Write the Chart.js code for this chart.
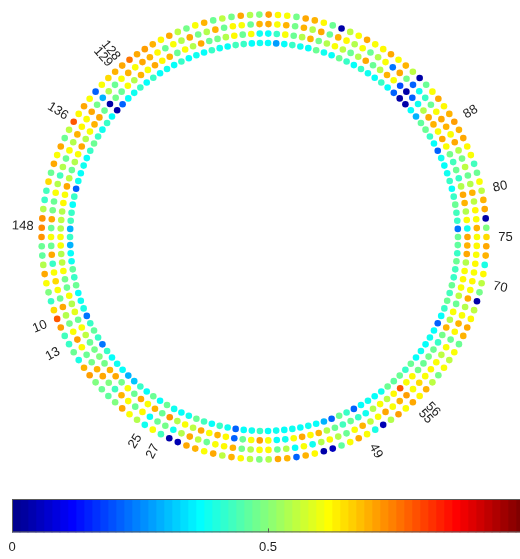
<!DOCTYPE html>
<html>
<head>
<meta charset="utf-8">
<script src="https://cdn.jsdelivr.net/npm/chart.js@4/dist/chart.umd.min.js"></script>
<style>
  html, body { margin: 0; padding: 0; background: #ffffff; overflow: hidden; width: 520px; height: 559px; }
  #ring { position: absolute; left: 0; top: 0; }
  #bar { position: absolute; left: 0; top: 480px; }
</style>
</head>
<body>
<canvas id="ring" width="520" height="475"></canvas>
<canvas id="bar" width="540" height="85"></canvas>
<script>
// Number of angular positions around the ring (position 150 sits at the left, numbering runs counter-clockwise)
const positionCount = 150;

// Ring numbers, inner to outer
const ringNumbers = [1, 2, 3, 4];

// Values (0..1) per position 1..150, one array per ring
const ring1Values = [
  0.30,0.38,0.39,0.47,0.43,0.48,0.38,0.39,0.40,0.24,
  0.43,0.47,0.43,0.24,0.43,0.38,0.39,0.38,0.30,0.32,
  0.43,0.38,0.48,0.38,0.48,0.39,0.38,0.39,0.48,0.44,
  0.38,0.43,0.39,0.22,0.38,0.39,0.43,0.38,0.39,0.38,
  0.39,0.38,0.39,0.38,0.30,0.22,0.48,0.43,0.22,0.38,
  0.39,0.38,0.39,0.48,0.47,0.48,0.43,0.48,0.38,0.39,
  0.38,0.39,0.38,0.22,0.38,0.43,0.48,0.44,0.48,0.43,
  0.44,0.48,0.43,0.47,0.48,0.24,0.43,0.44,0.48,0.43,
  0.38,0.43,0.39,0.38,0.39,0.22,0.38,0.43,0.48,0.47,
  0.30,0.38,0.04,0.04,0.22,0.38,0.43,0.38,0.39,0.43,
  0.38,0.43,0.48,0.38,0.39,0.48,0.38,0.39,0.43,0.38,
  0.28,0.38,0.39,0.38,0.43,0.44,0.38,0.39,0.43,0.38,
  0.39,0.38,0.43,0.38,0.39,0.38,0.43,0.38,0.43,0.39,
  0.38,0.22,0.04,0.38,0.43,0.39,0.43,0.48,0.43,0.38,
  0.39,0.38,0.39,0.22,0.43,0.38,0.43,0.44,0.30,0.43
];
const ring2Values = [
  0.62,0.55,0.56,0.62,0.49,0.48,0.62,0.55,0.60,0.48,
  0.62,0.56,0.48,0.49,0.50,0.49,0.70,0.71,0.49,0.62,
  0.48,0.71,0.62,0.70,0.48,0.73,0.55,0.62,0.56,0.71,
  0.62,0.70,0.63,0.22,0.48,0.62,0.72,0.62,0.38,0.39,
  0.62,0.71,0.63,0.70,0.55,0.48,0.44,0.48,0.43,0.39,
  0.55,0.62,0.56,0.63,0.79,0.62,0.63,0.49,0.48,0.49,
  0.48,0.43,0.49,0.70,0.55,0.62,0.48,0.56,0.62,0.63,
  0.62,0.55,0.71,0.70,0.71,0.39,0.62,0.55,0.70,0.71,
  0.55,0.43,0.48,0.44,0.49,0.62,0.71,0.62,0.70,0.71,
  0.55,0.39,0.22,0.04,0.20,0.62,0.70,0.55,0.48,0.71,
  0.55,0.48,0.56,0.62,0.55,0.49,0.70,0.55,0.48,0.62,
  0.43,0.38,0.39,0.62,0.48,0.63,0.55,0.49,0.48,0.71,
  0.55,0.62,0.48,0.70,0.63,0.71,0.62,0.70,0.55,0.62,
  0.48,0.49,0.04,0.48,0.71,0.70,0.62,0.55,0.71,0.62,
  0.55,0.48,0.56,0.71,0.62,0.63,0.55,0.56,0.55,0.62
];
const ring3Values = [
  0.48,0.71,0.43,0.62,0.66,0.62,0.48,0.71,0.55,0.49,
  0.62,0.72,0.63,0.48,0.49,0.70,0.71,0.50,0.44,0.70,
  0.62,0.48,0.63,0.38,0.48,0.49,0.39,0.55,0.71,0.56,
  0.48,0.62,0.63,0.70,0.49,0.55,0.62,0.63,0.48,0.55,
  0.38,0.62,0.39,0.55,0.63,0.55,0.48,0.62,0.70,0.56,
  0.62,0.71,0.62,0.70,0.72,0.62,0.66,0.62,0.63,0.62,
  0.56,0.62,0.48,0.63,0.70,0.62,0.55,0.71,0.62,0.63,
  0.62,0.63,0.62,0.63,0.62,0.70,0.62,0.63,0.56,0.70,
  0.55,0.48,0.56,0.49,0.55,0.71,0.62,0.70,0.71,0.62,
  0.48,0.43,0.39,0.22,0.49,0.71,0.24,0.62,0.55,0.48,
  0.62,0.55,0.63,0.70,0.48,0.71,0.55,0.70,0.49,0.70,
  0.62,0.71,0.70,0.48,0.62,0.63,0.48,0.70,0.55,0.49,
  0.71,0.55,0.62,0.48,0.63,0.70,0.71,0.62,0.70,0.62,
  0.48,0.55,0.30,0.49,0.71,0.62,0.63,0.70,0.55,0.62,
  0.48,0.55,0.44,0.55,0.62,0.48,0.49,0.71,0.48,0.62
];
const ring4Values = [
  0.48,0.47,0.55,0.71,0.62,0.50,0.43,0.66,0.79,0.72,
  0.44,0.43,0.48,0.40,0.70,0.72,0.50,0.48,0.47,0.50,
  0.71,0.62,0.55,0.39,0.62,0.44,0.04,0.05,0.71,0.70,
  0.62,0.71,0.56,0.70,0.63,0.56,0.50,0.55,0.71,0.70,
  0.22,0.70,0.63,0.04,0.06,0.47,0.62,0.71,0.62,0.40,
  0.05,0.55,0.72,0.62,0.71,0.63,0.70,0.56,0.49,0.62,
  0.56,0.62,0.48,0.70,0.71,0.63,0.56,0.04,0.49,0.56,
  0.63,0.40,0.70,0.71,0.66,0.50,0.04,0.71,0.70,0.56,
  0.62,0.48,0.44,0.62,0.63,0.71,0.70,0.72,0.70,0.63,
  0.71,0.62,0.48,0.04,0.56,0.70,0.62,0.71,0.63,0.62,
  0.71,0.62,0.56,0.04,0.48,0.63,0.70,0.71,0.49,0.62,
  0.63,0.72,0.50,0.55,0.71,0.49,0.56,0.48,0.70,0.62,
  0.49,0.56,0.71,0.63,0.70,0.72,0.71,0.76,0.71,0.70,
  0.66,0.62,0.22,0.62,0.71,0.63,0.79,0.56,0.48,0.71,
  0.62,0.71,0.48,0.66,0.44,0.43,0.55,0.73,0.74,0.73
];

// Positions that carry a number next to the ring
const markedPositions = [10, 13, 25, 27, 49, 55, 56, 70, 75, 80, 88, 128, 129, 136, 148];

// Colour bar tick values and band count
const colorbarTicks = [0, 0.5, 1];
const colorbarBands = 64;

const ringValues = [ring1Values, ring2Values, ring3Values, ring4Values];

Chart.defaults.font.family = "'Liberation Sans', Arial, Helvetica, sans-serif";
Chart.defaults.color = '#1e1e1e';

// Jet colour map
function jet(v) {
  const c = x => Math.max(0, Math.min(1, x));
  const r = c(1.5 - Math.abs(4 * v - 3));
  const g = c(1.5 - Math.abs(4 * v - 2));
  const b = c(1.5 - Math.abs(4 * v - 1));
  return 'rgb(' + Math.round(r * 255) + ',' + Math.round(g * 255) + ',' + Math.round(b * 255) + ')';
}

// Radar slots run clockwise from the start angle; position numbers run counter-clockwise
const slotLabels = Array.from({ length: positionCount }, (_, j) => String(j === 0 ? positionCount : positionCount - j));
const bySlot = arr => slotLabels.map(l => arr[Number(l) - 1]);

const LEFT_NUDGE = 2.2 * Math.PI / 180;

const positionNumbers = {
  id: 'positionNumbers',
  afterDatasetsDraw(chart) {
    const scale = chart.scales.r;
    const ctx = chart.ctx;
    const dist = scale.getDistanceFromCenterForValue(ringNumbers[ringNumbers.length - 1]) + 19;
    ctx.save();
    ctx.font = "13px 'Liberation Sans', Arial, sans-serif";
    ctx.fillStyle = '#1e1e1e';
    ctx.textAlign = 'center';
    ctx.textBaseline = 'middle';
    markedPositions.forEach(n => {
      const j = (positionCount - n) % positionCount;
      let p = scale.getPointPosition(j, dist);
      const onLeft = Math.cos(p.angle) < 0;
      if (onLeft) {
        p = scale.getPointPosition(j, dist, Math.sign(Math.sin(p.angle)) * LEFT_NUDGE);
      }
      ctx.save();
      ctx.translate(p.x, p.y);
      ctx.rotate(onLeft ? p.angle + Math.PI : p.angle);
      ctx.fillText(String(n), 0, 0);
      ctx.restore();
    });
    ctx.restore();
  }
};

new Chart(document.getElementById('ring'), {
  type: 'radar',
  data: {
    labels: slotLabels,
    datasets: ringValues.map((vals, i) => ({
      data: slotLabels.map(() => ringNumbers[i]),
      pointBackgroundColor: bySlot(vals).map(jet),
      pointBorderColor: 'rgba(0,0,0,0)',
      pointBorderWidth: 0,
      pointRadius: 3.3,
      pointHoverRadius: 3.3,
      showLine: false,
      borderWidth: 0,
      borderColor: 'rgba(0,0,0,0)',
      backgroundColor: 'rgba(0,0,0,0)',
      fill: false
    }))
  },
  options: {
    responsive: false,
    animation: false,
    events: [],
    layout: { padding: { left: 9, right: 0, top: 0, bottom: 0 } },
    plugins: { legend: { display: false }, tooltip: { enabled: false } },
    scales: {
      r: {
        min: -19.42,
        max: 5.53,
        startAngle: 270,
        ticks: { display: false },
        grid: { display: false },
        angleLines: { display: false },
        pointLabels: { display: false }
      }
    }
  },
  plugins: [positionNumbers]
});

// Colour bar: equal stacked bands along a 0..1 axis
const visibleWidth = 520;
const barFrame = {
  id: 'barFrame',
  afterDraw(chart) {
    const { ctx, chartArea: a } = chart;
    const x = chart.scales.x;
    ctx.save();
    ctx.strokeStyle = '#5a5a5a';
    ctx.lineWidth = 1;
    ctx.strokeRect(a.left + 0.5, a.top + 0.5, a.right - a.left - 1, a.bottom - a.top - 1);
    colorbarTicks.forEach(t => {
      const px = Math.round(x.getPixelForValue(t)) + 0.5;
      ctx.beginPath();
      ctx.moveTo(px, a.bottom);
      ctx.lineTo(px, a.bottom - 4);
      ctx.stroke();
    });
    ctx.restore();
  }
};

new Chart(document.getElementById('bar'), {
  type: 'bar',
  data: {
    labels: [''],
    datasets: Array.from({ length: colorbarBands }, (_, i) => ({
      data: [1 / colorbarBands],
      backgroundColor: jet((i + 1) / colorbarBands),
      borderWidth: 0,
      barPercentage: 1,
      categoryPercentage: 1
    }))
  },
  options: {
    indexAxis: 'y',
    responsive: false,
    animation: false,
    events: [],
    layout: { padding: { left: 12, right: 16, top: 19, bottom: 3 } },
    plugins: { legend: { display: false }, tooltip: { enabled: false } },
    scales: {
      x: {
        type: 'linear',
        stacked: true,
        min: colorbarTicks[0],
        max: colorbarTicks[colorbarTicks.length - 1],
        afterBuildTicks: s => { s.ticks = colorbarTicks.map(v => ({ value: v })); },
        ticks: {
          padding: 7,
          font: { size: 13 },
          color: '#1e1e1e',
          maxRotation: 0,
          // labels falling past the page edge are left out
          callback: function (value) {
            return this.getPixelForValue(value) + 2 > visibleWidth ? '' : String(value);
          }
        },
        grid: { display: false, drawTicks: false },
        border: { display: false }
      },
      y: { stacked: true, display: false }
    }
  },
  plugins: [barFrame]
});
</script>
</body>
</html>
